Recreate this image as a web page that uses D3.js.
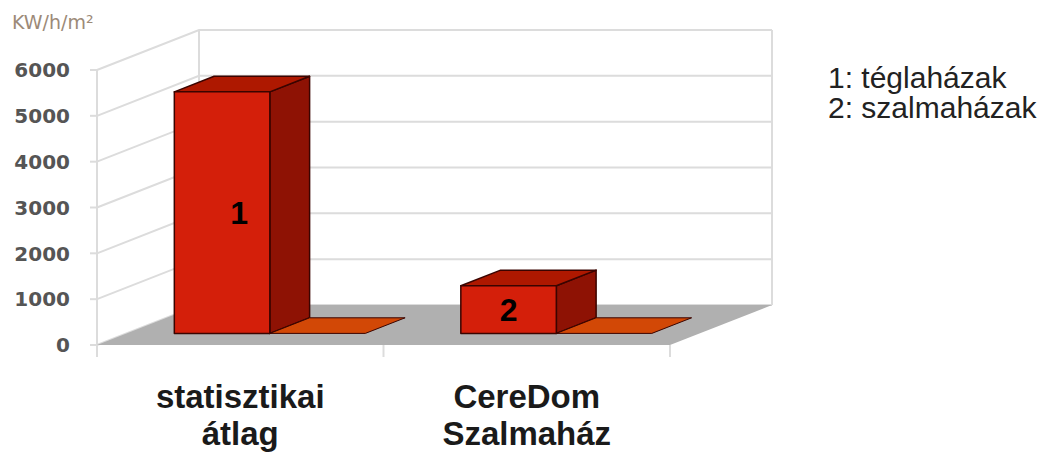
<!DOCTYPE html>
<html>
<head>
	<meta charset="utf-8">
	<title>KW/h/m2 - téglaházak / szalmaházak</title>
	<style type="text/css">
		body{
			margin: 0;
			background-color: #fff;
		}
		svg{
			display: block;
		}
		.grid line{
			stroke: #dcdcdc;
			stroke-width: 2px;
		}
		.tick-label{
			font-family: "DejaVu Sans", sans-serif;
			font-weight: bold;
			font-size: 20px;
			fill: #555;
		}
		.cat-label{
			font-family: "Liberation Sans", Arial, sans-serif;
			font-weight: bold;
			font-size: 33px;
			fill: #1a1a1a;
		}
		.legend{
			font-family: "Liberation Sans", Arial, sans-serif;
			font-size: 30px;
			fill: #222;
		}
	</style>
	<script type="text/javascript" src="https://cdnjs.cloudflare.com/ajax/libs/d3/7.8.5/d3.min.js"></script>
</head>
<body>
<div id="chart"></div>

<script type="text/javascript">
	// data
	var categories = ['statisztikai átlag', 'CereDom Szalmaház'];
	var categoryLines = [['statisztikai', 'átlag'], ['CereDom', 'Szalmaház']];
	var seriesKeys = ['red', 'orange'];
	var redValues = [5270, 1040];
	var orangeValues = [0, 0];
	var barLabels = ['1', '2'];
	var legendItems = ['1: téglaházak', '2: szalmaházak'];
	var yTicks = [0, 1000, 2000, 3000, 4000, 5000, 6000];
	var unitLabel = 'KW/h/m²';

	var width = 1046, height = 457;
	var DX = 102, DY = 40;          // offset of the back wall (3d depth)
	var z0 = 0.29, z1 = 0.68;       // depth of the bars
	var faceColors = {front: '#d41f0a', top: '#ae1800', side: '#8e1204', orange: '#d24806'};

	var svg = d3.select('#chart')
		.append('svg')
		.attr('width', width)
		.attr('height', height);

	var xScale = d3.scaleBand()
		.domain(categories)
		.range([97, 670]);
	var sScale = d3.scaleBand()
		.domain(seriesKeys)
		.range([0, xScale.bandwidth()])
		.paddingOuter(0.5);
	var yScale = d3.scaleLinear()
		.domain([0, 6000])
		.range([345, 70]);

	// front plane point pushed back by depth z
	function proj(px, py, z){
		return [px + z * DX, py - z * DY];
	}
	var line = d3.line();
	var x0 = xScale.range()[0], x1 = xScale.range()[1];

	// walls
	var grid = svg.append('g').attr('class', 'grid');
	yTicks.forEach(function(t){
		grid.append('path').attr('d', line([proj(x0, yScale(t), 0), proj(x0, yScale(t), 1), proj(x1, yScale(t), 1)])).attr('fill', 'none').style('stroke', '#dcdcdc').style('stroke-width', 2);
		grid.append('line')
			.attr('x1', x0 - 7).attr('x2', x0)
			.attr('y1', yScale(t)).attr('y2', yScale(t));
	});
	[[x0, 0], [x0, 1], [x1, 1]].forEach(function(p){
		var a = proj(p[0], yScale(0), p[1]), b = proj(p[0], yScale(6000), p[1]);
		grid.append('line').attr('x1', a[0]).attr('y1', a[1]).attr('x2', b[0]).attr('y2', b[1]);
	});

	// floor
	svg.append('path')
		.attr('d', line([proj(x0, yScale(0), 0), proj(x1, yScale(0), 0), proj(x1, yScale(0), 1), proj(x0, yScale(0), 1)]) + 'Z')
		.attr('fill', '#b0b0b0');

	// x ticks
	var xTickPos = categories.map(function(c){ return xScale(c); }).concat([x1]);
	xTickPos.forEach(function(px, i){
		svg.append('line')
			.attr('x1', px).attr('x2', px)
			.attr('y1', yScale(0)).attr('y2', yScale(0) + 12)
			.style('stroke', '#dcdcdc').style('stroke-width', 2);
	});

	// y labels
	svg.selectAll('.tick-label')
		.data(yTicks)
		.enter()
		.append('text')
		.attr('class', 'tick-label')
		.attr('x', 70)
		.attr('y', function(d){ return yScale(d); })
		.attr('dy', '0.36em')
		.attr('text-anchor', 'end')
		.text(function(d){ return d; });

	svg.append('text')
		.attr('x', 12)
		.attr('y', 29)
		.style('font-family', '"DejaVu Sans", sans-serif')
		.style('font-size', '19px')
		.attr('fill', '#9c8a78')
		.text(unitLabel);

	// bars
	var bars = [];
	categories.forEach(function(c, i){
		bars.push({cat: c, key: 'red', value: redValues[i], label: barLabels[i], idx: i});
		bars.push({cat: c, key: 'orange', value: orangeValues[i], idx: i});
	});

	bars.forEach(function(d){
		var bx0 = xScale(d.cat) + sScale(d.key);
		var bx1 = bx0 + sScale.bandwidth();
		var yt = yScale(d.value), yb = yScale(0);
		var g = svg.append('g')
			.attr('stroke', '#3a0400')
			.attr('stroke-width', 1.5)
			.attr('stroke-linejoin', 'round');
		if (d.value > 0){
			g.append('path')
				.attr('d', line([proj(bx1, yt, z0), proj(bx1, yt, z1), proj(bx1, yb, z1), proj(bx1, yb, z0)]) + 'Z')
				.attr('fill', faceColors.side);
			g.append('path')
				.attr('d', line([proj(bx0, yt, z0), proj(bx1, yt, z0), proj(bx1, yt, z1), proj(bx0, yt, z1)]) + 'Z')
				.attr('fill', faceColors.top);
			g.append('path')
				.attr('d', line([proj(bx0, yt, z0), proj(bx1, yt, z0), proj(bx1, yb, z0), proj(bx0, yb, z0)]) + 'Z')
				.attr('fill', faceColors.front);
		} else {
			g.append('path')
				.attr('d', line([proj(bx0, yt, z0), proj(bx1, yt, z0), proj(bx1, yt, z1), proj(bx0, yt, z1)]) + 'Z')
				.attr('fill', faceColors.orange)
				.attr('stroke-width', 1);
		}
		if (d.label){
			var fc = proj((bx0 + bx1) / 2, (yt + yb) / 2, z0);
			svg.append('text')
				.attr('x', fc[0] + (d.idx === 0 ? 17 : 0))
				.attr('y', fc[1])
				.attr('dy', '0.36em')
				.attr('text-anchor', 'middle')
				.style('font-family', '"Liberation Sans", Arial, sans-serif')
				.style('font-weight', 'bold')
				.style('font-size', '32px')
				.attr('fill', '#000')
				.text(d.label);
		}
	});

	// category labels
	categories.forEach(function(c, i){
		var t = svg.append('text')
			.attr('class', 'cat-label')
			.attr('text-anchor', 'middle')
			.attr('x', xScale(c) + xScale.bandwidth() / 2)
			.attr('y', 408);
		categoryLines[i].forEach(function(s, j){
			t.append('tspan')
				.attr('x', xScale(c) + xScale.bandwidth() / 2)
				.attr('dy', j === 0 ? 0 : 37)
				.text(s);
		});
	});

	// legend
	svg.selectAll('.legend')
		.data(legendItems)
		.enter()
		.append('text')
		.attr('class', 'legend')
		.attr('x', 828)
		.attr('y', function(d, i){ return 88 + i * 30; })
		.text(function(d){ return d; });
</script>
</body>
</html>
